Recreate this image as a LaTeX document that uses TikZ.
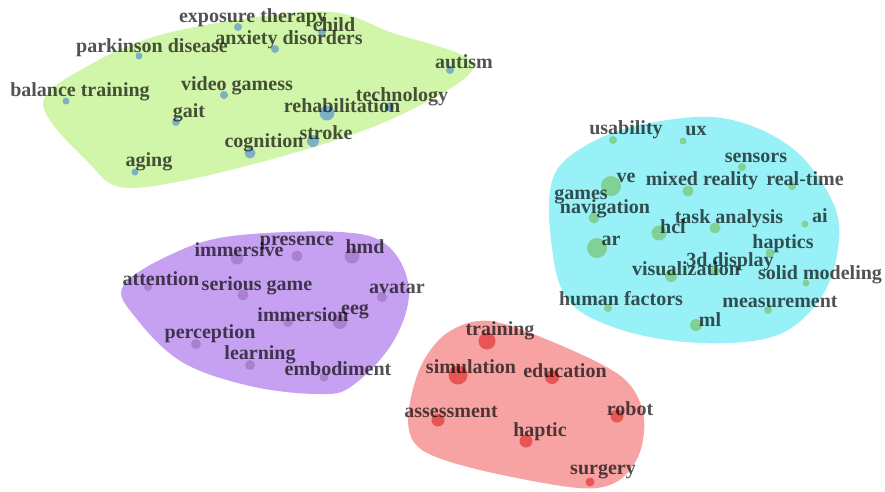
\documentclass[tikz,border=0pt]{standalone}
\usepackage{fontspec}
\setmainfont{Liberation Serif}
\begin{document}
\begin{tikzpicture}[x=1pt,y=-1pt,
  lbl/.style={font=\bfseries\fontsize{20}{20}\selectfont, text=black, text opacity=0.68, inner sep=0pt},
  dotg/.style={circle, fill=dotblue, fill opacity=0.85, inner sep=0pt, minimum size=#1},
  dotc/.style={circle, fill=dotgreen, fill opacity=0.85, inner sep=0pt, minimum size=#1},
  dotp/.style={circle, fill=dotpurple, fill opacity=0.85, inner sep=0pt, minimum size=#1},
  dotr/.style={circle, fill=dotred, fill opacity=0.85, inner sep=0pt, minimum size=#1},
  blob/.style={fill=#1, draw=none}
]
\definecolor{blobgreen}{HTML}{D2F6A9}
\definecolor{blobcyan}{HTML}{98F1F6}
\definecolor{blobpurple}{HTML}{C7A1F1}
\definecolor{blobred}{HTML}{F8A3A3}
\definecolor{dotblue}{HTML}{6FA6C6}
\definecolor{dotgreen}{HTML}{7DCB85}
\definecolor{dotpurple}{HTML}{A77BC6}
\definecolor{dotred}{HTML}{E54848}
\useasboundingbox[fill=white] (0,0) rectangle (885,491);

% blobs
\fill[blob=blobgreen] plot[smooth cycle, tension=0.55] coordinates {(43,103) (95,62) (160,35) (250,18) (333,12) (390,32) (474,66) (385,122) (250,165) (130,188) (88,162)};
\fill[blob=blobcyan] plot[smooth cycle, tension=0.6] coordinates {(553,178) (585,146) (640,125) (722,118) (792,148) (834,205) (837,255) (818,302) (775,336) (700,343) (622,330) (568,300) (551,240)};
\fill[blob=blobpurple] plot[smooth cycle, tension=0.6] coordinates {(123,286) (172,254) (232,236) (340,232) (388,246) (409,290) (393,342) (352,386) (318,394) (250,386) (182,362) (136,318)};
\fill[blob=blobred] plot[smooth cycle, tension=0.55] coordinates {(447,333) (490,321) (560,345) (622,377) (643,412) (640,452) (618,481) (578,488) (480,470) (422,450) (408,420) (420,368)};

% green cluster dots
\node[dotg=8pt] (d1) at (238,27) {};
\node[dotg=8pt] (d2) at (322,32) {};
\node[dotg=8pt] (d3) at (275,49) {};
\node[dotg=7pt] (d4) at (139,56) {};
\node[dotg=8pt] (d5) at (450,70) {};
\node[dotg=7pt] (d6) at (66,101) {};
\node[dotg=8pt] (d7) at (224,95) {};
\node[dotg=8pt] (d8) at (176,122) {};
\node[dotg=15pt] (d9) at (327,113) {};
\node[dotg=9pt] (d10) at (389,107) {};
\node[dotg=12pt] (d11) at (313,141) {};
\node[dotg=11pt] (d12) at (250,153) {};
\node[dotg=7pt] (d13) at (135,172) {};
% cyan cluster dots
\node[dotc=8pt] (c1) at (613,140) {};
\node[dotc=7pt] (c2) at (683,141) {};
\node[dotc=8pt] (c3) at (742,167) {};
\node[dotc=20pt] (c4) at (611,186) {};
\node[dotc=11pt] (c5) at (688,191) {};
\node[dotc=8pt] (c6) at (792,186) {};
\node[dotc=11pt] (c7) at (594,218) {};
\node[dotc=11pt] (c8) at (715,228) {};
\node[dotc=15pt] (c9) at (659,233) {};
\node[dotc=7pt] (c10) at (805,224) {};
\node[dotc=20pt] (c11) at (597,248) {};
\node[dotc=9pt] (c12) at (770,253) {};
\node[dotc=9pt] (c13) at (715,271) {};
\node[dotc=12pt] (c14) at (671,276) {};
\node[dotc=7pt] (c15) at (806,283) {};
\node[dotc=8pt] (c16) at (608,308) {};
\node[dotc=8pt] (c17) at (768,310) {};
\node[dotc=12pt] (c18) at (696,325) {};
% purple cluster dots
\node[dotp=13pt] (p1) at (237,258) {};
\node[dotp=11pt] (p2) at (297,256) {};
\node[dotp=15pt] (p3) at (352,256) {};
\node[dotp=8pt] (p4) at (148,287) {};
\node[dotp=11pt] (p5) at (243,295) {};
\node[dotp=10pt] (p6) at (382,297) {};
\node[dotp=10pt] (p7) at (288,322) {};
\node[dotp=14pt] (p8) at (340,322) {};
\node[dotp=10pt] (p9) at (196,344) {};
\node[dotp=10pt] (p10) at (250,365) {};
\node[dotp=9pt] (p11) at (324,377) {};
% red cluster dots
\node[dotr=17pt] (r1) at (487,341) {};
\node[dotr=19pt] (r2) at (458,375) {};
\node[dotr=14pt] (r3) at (552,377) {};
\node[dotr=13pt] (r4) at (438,420) {};
\node[dotr=13pt] (r5) at (617,416) {};
\node[dotr=13pt] (r6) at (526,441) {};
\node[dotr=9pt] (r7) at (590,482) {};

% green labels
\node[lbl] (t1) at (253,18) {exposure therapy};
\node[lbl] (t2) at (334,25) {child};
\node[lbl] (t3) at (289,40) {anxiety disorders};
\node[lbl] (t4) at (152,48) {parkinson disease};
\node[lbl] (t5) at (464,62) {autism};
\node[lbl] (t6) at (80,92) {balance training};
\node[lbl] (t7) at (237,86) {video gamess};
\node[lbl] (t8) at (189,113) {gait};
\node[lbl] (t9) at (342,106) {rehabilitation};
\node[lbl] (t10) at (402,97) {technology};
\node[lbl] (t11) at (326,133) {stroke};
\node[lbl] (t12) at (264,143) {cognition};
\node[lbl] (t13) at (149,162) {aging};
% cyan labels
\node[lbl] (u1) at (626,130) {usability};
\node[lbl] (u2) at (696,131) {ux};
\node[lbl] (u3) at (756,158) {sensors};
\node[lbl] (u4) at (626,178) {ve};
\node[lbl] (u5) at (702,181) {mixed reality};
\node[lbl] (u6) at (805,179) {real-time};
\node[lbl] (u7) at (581,197) {games};
\node[lbl] (u8) at (605,209) {navigation};
\node[lbl] (u9) at (729,219) {task analysis};
\node[lbl] (u10) at (673,227) {hcl};
\node[lbl] (u11) at (820,216) {ai};
\node[lbl] (u12) at (611,241) {ar};
\node[lbl] (u13) at (783,244) {haptics};
\node[lbl] (u14) at (730,262) {3d display};
\node[lbl] (u15) at (686,269) {visualization};
\node[lbl] (u16) at (820,275) {solid modeling};
\node[lbl] (u17) at (621,299) {human factors};
\node[lbl] (u18) at (780,302) {measurement};
\node[lbl] (u19) at (710,320) {ml};
% purple labels
\node[lbl] (v1) at (239,250) {immersive};
\node[lbl] (v2) at (297,243) {presence};
\node[lbl] (v3) at (365,247) {hmd};
\node[lbl] (v4) at (161,279) {attention};
\node[lbl] (v5) at (257,286) {serious game};
\node[lbl] (v6) at (397,288) {avatar};
\node[lbl] (v7) at (303,315) {immersion};
\node[lbl] (v8) at (355,312) {eeg};
\node[lbl] (v9) at (210,334) {perception};
\node[lbl] (v10) at (260,355) {learning};
\node[lbl] (v11) at (338,369) {embodiment};
% red labels
\node[lbl] (w1) at (500,331) {training};
\node[lbl] (w2) at (471,367) {simulation};
\node[lbl] (w3) at (565,371) {education};
\node[lbl] (w4) at (451,412) {assessment};
\node[lbl] (w5) at (630,409) {robot};
\node[lbl] (w6) at (540,432) {haptic};
\node[lbl] (w7) at (603,472) {surgery};
\end{tikzpicture}
\end{document}
